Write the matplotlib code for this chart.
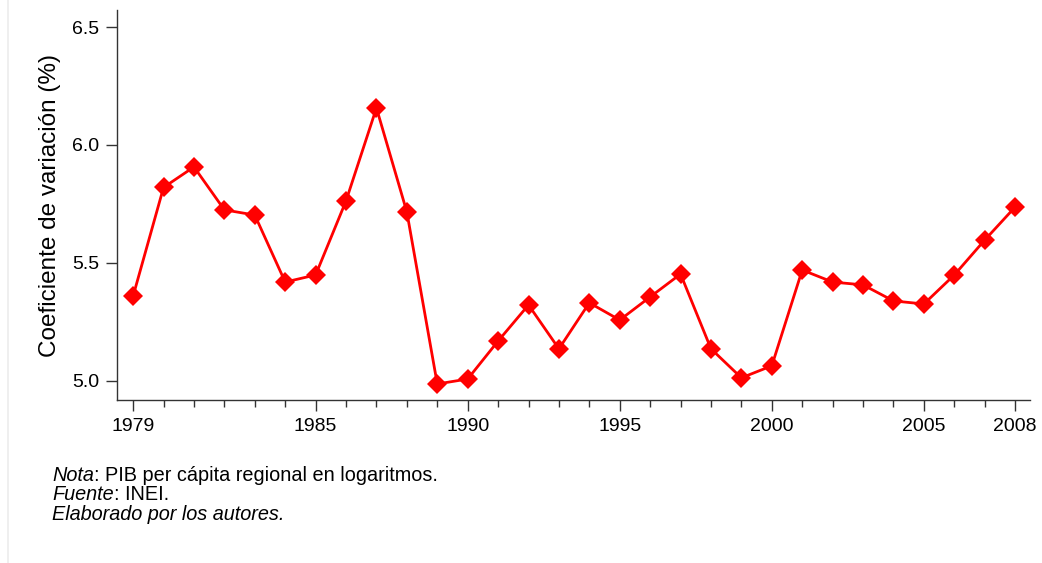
import matplotlib
matplotlib.use("Agg")
import matplotlib.pyplot as plt
from matplotlib.lines import Line2D
from matplotlib.ticker import MultipleLocator

plt.rcParams['font.family'] = ['Liberation Sans', 'DejaVu Sans']

# Coeficiente de variación del PIB per cápita regional (log), 1979-2008
years = list(range(1979, 2009))
cv = [5.36, 5.82, 5.907, 5.725, 5.703, 5.419, 5.449, 5.763, 6.157, 5.716,
      4.987, 5.008, 5.169, 5.322, 5.136, 5.331, 5.258, 5.356, 5.453, 5.136,
      5.013, 5.064, 5.47, 5.419, 5.407, 5.339, 5.326, 5.449, 5.597, 5.737]

xticks = [1979, 1985, 1990, 1995, 2000, 2005, 2008]
yticks = [5.0, 5.5, 6.0, 6.5]

fig = plt.figure(figsize=(10.42, 5.63), dpi=100)
ax = fig.add_axes([0.1123, 0.2895, 0.8762, 0.6927])

ax.plot(years, cv, color='#ff0000', linewidth=2.0, marker='D',
        markersize=10, markeredgewidth=0, zorder=3)

ax.set_xlim(1978.47, 2008.49)
ax.set_ylim(4.919, 6.572)
ax.set_xticks(xticks)
ax.xaxis.set_minor_locator(MultipleLocator(1))
ax.set_yticks(yticks)
ax.set_yticklabels([f"{v:.1f}" for v in yticks])

for side in ('top', 'right'):
    ax.spines[side].set_visible(False)
for side in ('left', 'bottom'):
    ax.spines[side].set_color('#333333')
    ax.spines[side].set_linewidth(1.0)

ax.tick_params(axis='both', which='major', direction='out', length=8,
               width=1.0, color='#333333', labelsize=14, pad=5)
ax.tick_params(axis='x', which='minor', direction='out', length=5,
               width=1.0, color='#333333')
ax.tick_params(axis='y', which='minor', left=False)

ax.set_ylabel("Coeficiente de variación (%)", fontsize=17.5, labelpad=8)

# faint border line on the left edge
fig.add_artist(Line2D([7.5 / 1042, 7.5 / 1042], [0, 1], transform=fig.transFigure,
                      color='#ececec', linewidth=1.2))


# notes with italic lead words
def note(y, lead, rest):
    t = fig.text(0.05, y, lead, fontsize=14.3, style='italic',
                 ha='left', va='baseline')
    fig.canvas.draw()
    bb = t.get_window_extent()
    x2 = bb.x1 / fig.bbox.width
    if rest:
        fig.text(x2, y, rest, fontsize=14.3, ha='left', va='baseline')


note(1 - 481 / 563, "Nota", ": PIB per cápita regional en logaritmos.")
note(1 - 500 / 563, "Fuente", ": INEI.")
note(1 - 520 / 563, "Elaborado por los autores.", "")

fig.savefig("out.png", dpi=100, facecolor='white')
